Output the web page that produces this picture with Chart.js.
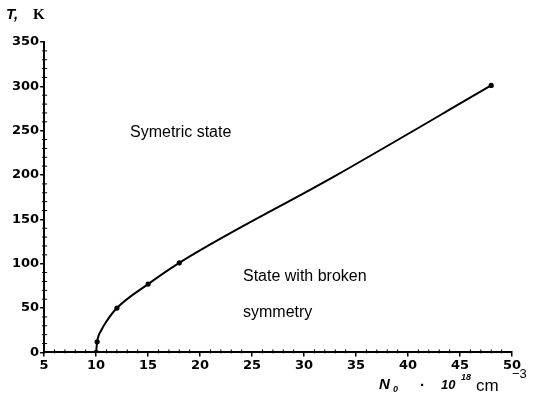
<!DOCTYPE html>
<html>
<head>
<meta charset="utf-8">
<script src="https://cdn.jsdelivr.net/npm/chart.js@4.4.0/dist/chart.umd.min.js"></script>
<style>
  html, body { margin: 0; padding: 0; background: #fff; }
  #wrap { width: 556px; height: 401px; position: relative; }
</style>
</head>
<body>
<div id="wrap"><canvas id="phaseChart"></canvas></div>
<script>
// N0 (10^18 cm^-3) and critical temperature T (K)
const density = [10, 10.1, 10.5, 11, 12, 15, 18, 33, 48];
const temperature = [0, 12, 25, 35, 50, 77, 101, 199, 301];
const marked = [true, true, false, false, true, true, true, false, true];
const xTicks = [5, 10, 15, 20, 25, 30, 35, 40, 45, 50];
const yTicks = [0, 50, 100, 150, 200, 250, 300, 350];

const tickFont = { size: 13, weight: 'bold', family: '"DejaVu Sans", sans-serif' };

// minor ticks + axis titles + region labels
const decorations = {
    id: 'decorations',
    afterDraw(chart) {
        const ctx = chart.ctx;
        const x = chart.scales.x;
        const y = chart.scales.y;
        ctx.save();
        ctx.strokeStyle = '#000';
        ctx.lineWidth = 1;
        for (let v = 6; v < 50; v++) {
            if (v % 5 === 0) continue;
            const px = x.getPixelForValue(v);
            ctx.beginPath();
            ctx.moveTo(px, y.bottom - 3);
            ctx.lineTo(px, y.bottom + 1);
            ctx.stroke();
        }
        for (let v = 10; v < 350; v += 10) {
            if (v % 50 === 0) continue;
            const py = y.getPixelForValue(v);
            ctx.beginPath();
            ctx.moveTo(x.left - 2, py);
            ctx.lineTo(x.left + 3, py);
            ctx.stroke();
        }

        ctx.fillStyle = '#000';
        ctx.textBaseline = 'alphabetic';
        ctx.textAlign = 'left';
        ctx.font = 'italic bold 15px "Liberation Sans", Arial, sans-serif';
        ctx.fillText('T,', 6, 19);
        ctx.font = 'bold 15px "Liberation Serif", serif';
        ctx.fillText('K', 33, 19);

        // x-axis title
        ctx.font = 'italic bold 15px "Liberation Sans", Arial, sans-serif';
        ctx.fillText('N', 379, 389);
        ctx.font = 'italic bold 9px "Liberation Sans", Arial, sans-serif';
        ctx.fillText('0', 393, 392);
        ctx.font = 'bold 15px "Liberation Sans", Arial, sans-serif';
        ctx.fillText('\u00b7', 420, 390);
        ctx.font = 'italic bold 13px "Liberation Sans", Arial, sans-serif';
        ctx.fillText('10', 441, 389);
        ctx.font = 'italic bold 9px "Liberation Sans", Arial, sans-serif';
        ctx.fillText('18', 461, 380);
        ctx.font = '17px "Liberation Sans", Arial, sans-serif';
        ctx.fillText('cm', 476, 391);
        ctx.font = '13px "Liberation Sans", Arial, sans-serif';
        ctx.fillText('\u22123', 512, 378);

        // region labels
        ctx.font = '16px "Liberation Sans", Arial, sans-serif';
        ctx.fillText('Symetric state', 130, 137);
        ctx.fillText('State with broken', 243, 281);
        ctx.fillText('symmetry', 243, 317);
        ctx.restore();
    }
};

const ctx = document.getElementById('phaseChart').getContext('2d');
const phaseChart = new Chart(ctx, {
    type: 'line',
    data: {
        datasets: [{
            data: density.map((d, i) => ({ x: d, y: temperature[i] })),
            borderColor: '#000',
            backgroundColor: '#000',
            borderWidth: 2,
            pointRadius: marked.map(m => m ? 1.6 : 0),
            pointHoverRadius: 0,
            cubicInterpolationMode: 'monotone',
            fill: false
        }]
    },
    options: {
        responsive: true,
        maintainAspectRatio: false,
        animation: false,
        events: [],
        layout: { padding: { left: 11, right: 44, top: 42, bottom: 27 } },
        plugins: { legend: { display: false }, tooltip: { enabled: false } },
        scales: {
            x: {
                type: 'linear',
                min: 5,
                max: 50,
                afterBuildTicks: axis => { axis.ticks = xTicks.map(v => ({ value: v })); },
                ticks: { color: '#000', font: tickFont, padding: 1, maxRotation: 0 },
                grid: { drawOnChartArea: false, drawTicks: true, tickLength: 4, color: '#000', lineWidth: 1.5 },
                border: { color: '#000', width: 2 }
            },
            y: {
                min: 0,
                max: 350,
                afterBuildTicks: axis => { axis.ticks = yTicks.map(v => ({ value: v })); },
                ticks: { color: '#000', font: tickFont, padding: 1 },
                grid: { drawOnChartArea: false, drawTicks: true, tickLength: 4, color: '#000', lineWidth: 1.5 },
                border: { color: '#000', width: 2 }
            }
        }
    },
    plugins: [decorations]
});
</script>
</body>
</html>
